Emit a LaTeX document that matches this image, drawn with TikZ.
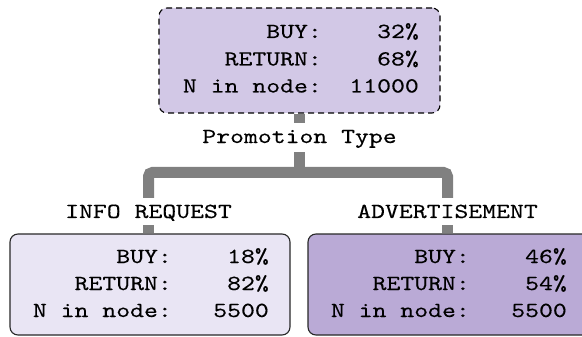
\documentclass[tikz,border=0pt]{standalone}
\usepackage{fontspec}
\newfontfamily\treefont[FakeStretch=1.23, FakeBold=0.25]{lmmono10-regular.otf}
\definecolor{rootfill}{RGB}{210,200,230}
\definecolor{infofill}{RGB}{233,229,244}
\definecolor{advfill}{RGB}{186,170,214}
\definecolor{linkgray}{RGB}{128,128,128}
\definecolor{edgedark}{RGB}{40,40,40}
\tikzset{
  treebox/.style={rectangle, rounded corners=8pt, draw=edgedark, line width=1.1pt, inner sep=0pt},
  rootbox/.style={treebox, dashed, dash pattern=on 6pt off 4pt, draw=black, fill=rootfill},
  txt/.style={font=\treefont\fontsize{21.5}{21.5}\selectfont, inner sep=0pt, text=black},
  lbl/.style={txt, anchor=base east},
  split/.style={txt, text height=13pt, text depth=2pt, inner xsep=2pt, inner ysep=7pt},
  branch/.style={txt, text height=13pt, text depth=0pt, inner xsep=2pt, inner ysep=7pt},
  conn/.style={draw=linkgray, line width=11pt},
}
\begin{document}
\begin{tikzpicture}[x=1pt, y=-1pt]
\useasboundingbox (0,0) rectangle (582,337);
\clip (0,0) rectangle (582,337);

% node boxes
\node[rootbox, minimum width=281pt, minimum height=105pt] (root) at (299.5,60.5) {};
\node[treebox, fill=infofill, minimum width=280pt, minimum height=101pt] (left) at (150,284.5) {};
\node[treebox, fill=advfill, minimum width=282pt, minimum height=101pt] (right) at (449,284.5) {};

% root statistics
\node[lbl] (rbuyl) at (322,38) {BUY:};
\node[lbl] (rbuyv) at (419,38) {32\%};
\node[lbl] (rretl) at (322,65.5) {RETURN:};
\node[lbl] (rretv) at (419,65.5) {68\%};
\node[lbl] (rnl) at (322,92.5) {N in node:};
\node[lbl] (rnv) at (419,92.5) {11000};

% left child statistics
\node[lbl] (lbuyl) at (172,263) {BUY:};
\node[lbl] (lbuyv) at (269,263) {18\%};
\node[lbl] (lretl) at (172,290) {RETURN:};
\node[lbl] (lretv) at (269,290) {82\%};
\node[lbl] (lnl) at (172,317) {N in node:};
\node[lbl] (lnv) at (269,317) {5500};

% right child statistics
\node[lbl] (abuyl) at (470,263) {BUY:};
\node[lbl] (abuyv) at (567,263) {46\%};
\node[lbl] (aretl) at (470,290) {RETURN:};
\node[lbl] (aretv) at (567,290) {54\%};
\node[lbl] (anl) at (470,317) {N in node:};
\node[lbl] (anv) at (567,317) {5500};

% split variable and branch labels
\node[split, anchor=base] (splitvar) at (299.5,143) {Promotion Type};
\node[branch, anchor=base] (info) at (148.5,218) {INFO REQUEST};
\node[branch, anchor=base] (adv) at (447.5,218) {ADVERTISEMENT};
\coordinate (bar) at (299.5,172.5);

% connectors
\draw[conn] (root.south -| splitvar.north) -- (splitvar.north);
\draw[conn] (splitvar.south) -- (bar);
\draw[conn, rounded corners=4pt] (info.north) |- (bar) -| (adv.north);
\draw[conn] (info.south) -- (info.south |- left.north);
\draw[conn] (adv.south) -- (adv.south |- right.north);
\end{tikzpicture}
\end{document}
